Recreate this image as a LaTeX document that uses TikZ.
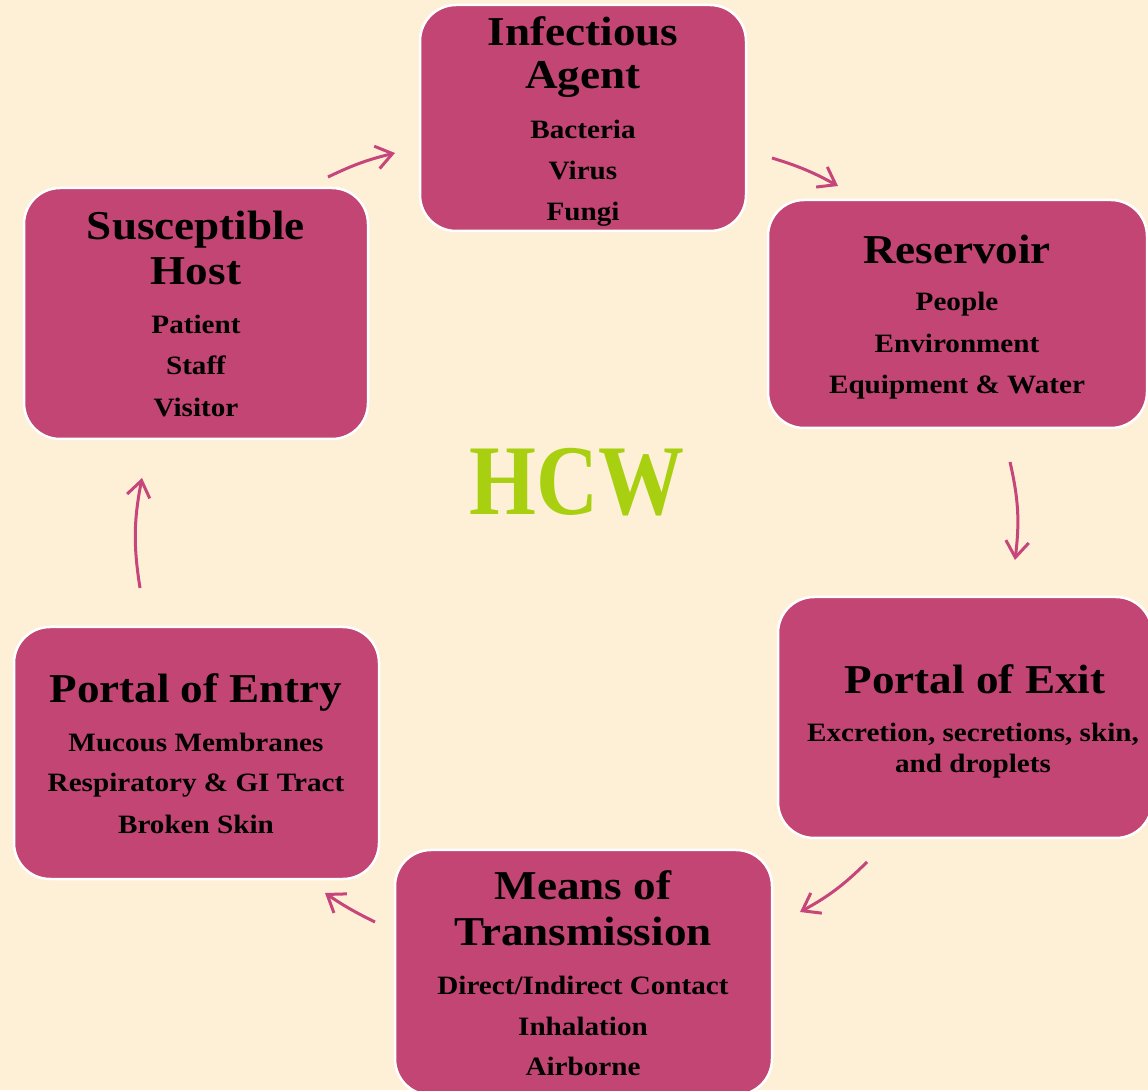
\documentclass[tikz,border=0pt]{standalone}
\usepackage{fontspec}
\setmainfont{Liberation Serif}[FakeStretch=1.1]
\newfontfamily\hcwfont{Liberation Serif}[FakeStretch=0.86]
\usetikzlibrary{arrows.meta}
\definecolor{bgc}{HTML}{FEF0D6}
\definecolor{boxc}{HTML}{C34574}
\definecolor{arrc}{HTML}{C6457A}
\definecolor{hcwc}{HTML}{A8D010}
\tikzset{
  cbox/.style={draw=white, line width=2.5pt, fill=boxc, rounded corners=36pt, inner sep=0pt},
  ttl/.style={anchor=base, font=\fontsize{41}{41}\selectfont\bfseries, text=black, inner sep=0pt},
  itm/.style={anchor=base, font=\fontsize{26.5}{26.5}\selectfont\bfseries, text=black, inner sep=0pt},
  cyc/.style={draw=arrc, line width=3pt, -{Straight Barb[length=16pt,width=23pt]}}
}
\begin{document}
\begin{tikzpicture}[x=1pt,y=1pt]
\fill[bgc] (0,0) rectangle (1148,1090);
\useasboundingbox (0,0) rectangle (1148,1090);
\clip (0,0) rectangle (1148,1090);
% boxes
\node[cbox, minimum width=326pt, minimum height=226pt] (ia) at (583,972) {};
\node[cbox, minimum width=379pt, minimum height=228pt] (res) at (957.5,776) {};
\node[cbox, minimum width=374pt, minimum height=241pt] (pex) at (965,372.5) {};
\node[cbox, minimum width=377pt, minimum height=245pt] (mt) at (583.5,117.5) {};
\node[cbox, minimum width=365pt, minimum height=252pt] (pen) at (196.5,337) {};
\node[cbox, minimum width=344pt, minimum height=251pt] (sh) at (196,776.5) {};
% Infectious agent
\node[ttl] (ia1) at (583,1044) {Infectious};
\node[ttl] (ia2) at (583,1001) {Agent};
\node[itm] (ia3) at (583,951) {Bacteria};
\node[itm] (ia4) at (583,910) {Virus};
\node[itm] (ia5) at (583,869) {Fungi};
% Reservoir
\node[ttl] (re1) at (957,826) {Reservoir};
\node[itm] (re2) at (957,779) {People};
\node[itm] (re3) at (957,737) {Environment};
\node[itm] (re4) at (957,696) {Equipment \& Water};
% Susceptible host
\node[ttl] (sh1) at (196,850) {Susceptible};
\node[ttl] (sh2) at (196,805) {Host};
\node[itm] (sh3) at (196,756) {Patient};
\node[itm] (sh4) at (196,715) {Staff};
\node[itm] (sh5) at (196,673) {Visitor};
% Portal of exit
\node[ttl] (pe1) at (975,396) {Portal of Exit};
\node[itm] (pe2) at (973,348) {Excretion, secretions, skin,};
\node[itm] (pe3) at (973,317) {and droplets};
% Means of transmission
\node[ttl] (mt1) at (583,191) {Means of};
\node[ttl] (mt2) at (583,145) {Transmission};
\node[itm] (mt3) at (583,96) {Direct/Indirect Contact};
\node[itm] (mt4) at (583,55) {Inhalation};
\node[itm] (mt5) at (583,15) {Airborne};
% Portal of entry
\node[ttl] (pn1) at (196,387) {Portal of Entry};
\node[itm] (pn2) at (196,338) {Mucous Membranes};
\node[itm] (pn3) at (196,298) {Respiratory \& GI Tract};
\node[itm] (pn4) at (196,256) {Broken Skin};
% centre
\node[anchor=base, inner sep=0pt, text=hcwc, font=\hcwfont\fontsize{100}{100}\selectfont\bfseries] (hcw) at (577,575) {HCW};
% arrow end points
\coordinate (a1s) at (328,913); \coordinate (a1e) at (395,937);
\coordinate (a2s) at (772,932); \coordinate (a2e) at (838,904);
\coordinate (a3s) at (1010,628); \coordinate (a3e) at (1015,530);
\coordinate (a4s) at (867,228); \coordinate (a4e) at (800,178);
\coordinate (a5s) at (375,168); \coordinate (a5e) at (325,197);
\coordinate (a6s) at (140,502); \coordinate (a6e) at (142,612);
\draw[cyc] (a1s) to[bend left=6] (a1e);
\draw[cyc] (a2s) to[bend left=6] (a2e);
\draw[cyc] (a3s) to[bend left=10] (a3e);
\draw[cyc] (a4s) to[bend left=8] (a4e);
\draw[cyc] (a5s) to[bend left=4] (a5e);
\draw[cyc] (a6s) to[bend left=10] (a6e);
\end{tikzpicture}
\end{document}
